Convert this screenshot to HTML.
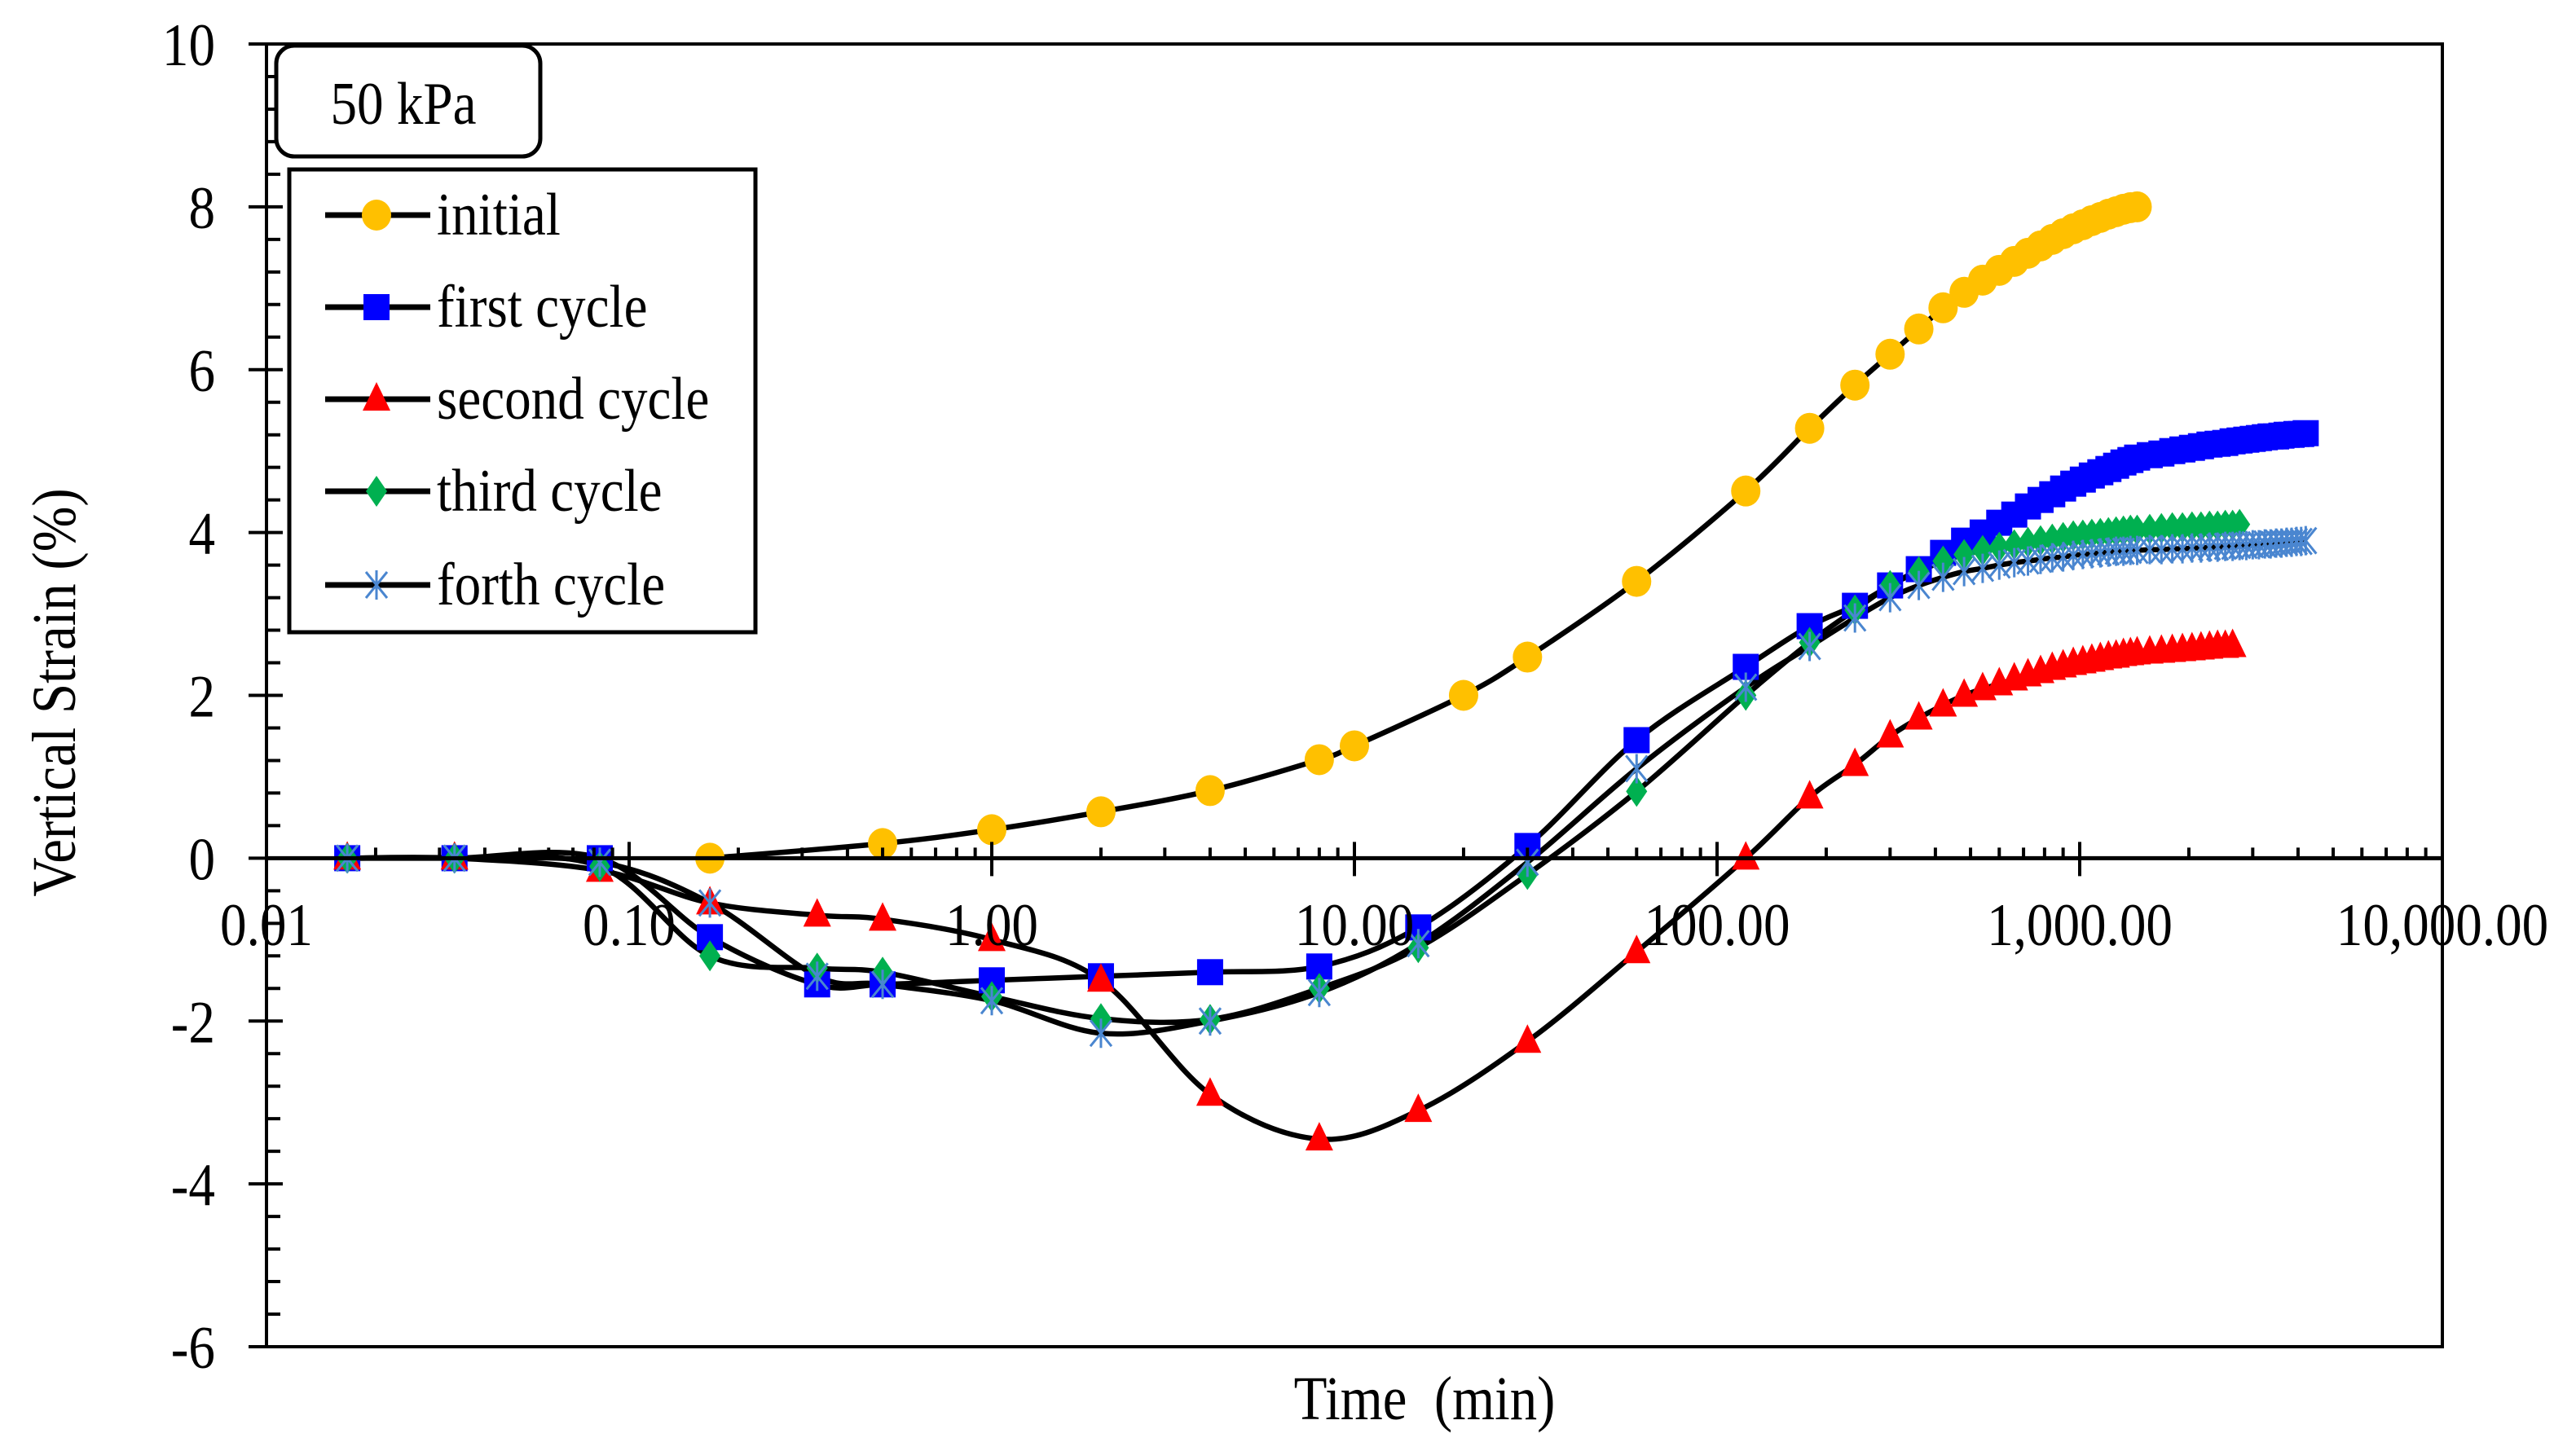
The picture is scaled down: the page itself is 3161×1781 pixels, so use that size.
<!DOCTYPE html>
<html><head><meta charset="utf-8"><style>
html,body{margin:0;padding:0;background:#fff;}
svg{display:block;font-family:"Liberation Serif",serif;}
</style></head><body>
<svg id="chart" width="3161" height="1781" viewBox="0 0 3161 1781" xmlns="http://www.w3.org/2000/svg">
<rect x="0" y="0" width="3161" height="1781" fill="#fff"/>
<g id="lines"></g>
<g id="marks"></g>
<g id="axes"></g>
<text x="0" y="0" font-size="76" text-anchor="middle" transform="translate(1748,1742) scale(0.88,1)">Time&#160; (min)</text>
<text x="0" y="0" font-size="76" text-anchor="middle" transform="translate(92,850) rotate(-90) scale(0.88,1)">Vertical Strain (%)</text>
<rect x="339" y="56" width="324" height="136" rx="22" ry="22" fill="#fff" stroke="#000" stroke-width="5"/>
<text x="0" y="0" font-size="74" text-anchor="middle" transform="translate(495,152) scale(0.88,1)">50 kPa</text>
<g id="legend">
<rect x="355" y="208" width="572" height="568" fill="#fff" stroke="#000" stroke-width="5"/>
</g>
</svg>
<script>
const categoriesEarly=[0.0167,0.033,0.083,0.167,0.33,0.5,1,2,4,8,15,30,60,120,180,240,300,360,420];
const timesMid=[480,540,600,660,720,780,840,900,960,1020,1080,1140,1200,1260,1320,1380,1440];
const timesLate=[1560,1680,1800,1920,2040,2160,2280,2400,2520,2640,2760,2880,3000,3120,3240,3360,3480,3600,3720,3840,3960,4080,4200];
const initialTimes=[0.167,0.5,1,2,4,8,10,20,30,60,120,180,240,300,360,420];
const initialValues=[0,0.18,0.35,0.57,0.83,1.21,1.38,2.0,2.47,3.4,4.51,5.28,5.81,6.19,6.5,6.76,6.95,7.1,7.22,7.33,7.43,7.52,7.6,7.67,7.73,7.78,7.83,7.87,7.91,7.94,7.97,7.99,8.0];
const firstValues=[0,0,0,-0.97,-1.55,-1.55,-1.5,-1.45,-1.4,-1.33,-0.85,0.15,1.45,2.35,2.85,3.1,3.35,3.55,3.75,3.9,4.0,4.12,4.22,4.32,4.4,4.47,4.54,4.6,4.65,4.7,4.74,4.78,4.82,4.86,4.89,4.92,4.95,4.97,5.0,5.02,5.04,5.06,5.08,5.09,5.1,5.12,5.13,5.14,5.15,5.16,5.17,5.18,5.18,5.19,5.2,5.2,5.21,5.21,5.22];
const secondValues=[0,0,-0.15,-0.55,-0.7,-0.75,-1.0,-1.5,-2.9,-3.45,-3.1,-2.25,-1.15,0.0,0.75,1.15,1.5,1.72,1.88,2.0,2.08,2.14,2.2,2.25,2.29,2.33,2.36,2.39,2.41,2.43,2.45,2.47,2.48,2.5,2.51,2.52,2.53,2.54,2.55,2.56,2.57,2.58,2.59,2.6,2.6,2.61];
const thirdValues=[0,0,-0.1,-1.2,-1.35,-1.4,-1.7,-1.97,-1.98,-1.6,-1.1,-0.2,0.82,2.0,2.65,3.05,3.35,3.52,3.65,3.73,3.78,3.82,3.85,3.88,3.9,3.92,3.94,3.96,3.97,3.98,3.99,4.0,4.01,4.02,4.03,4.03,4.04,4.05,4.06,4.06,4.07,4.07,4.08,4.08,4.09,4.09,4.1];
const fourthValues=[0,0,-0.05,-0.55,-1.45,-1.55,-1.75,-2.15,-2.0,-1.65,-1.05,-0.05,1.1,2.1,2.6,2.95,3.2,3.35,3.45,3.52,3.56,3.6,3.63,3.65,3.67,3.69,3.7,3.72,3.73,3.74,3.75,3.76,3.77,3.77,3.78,3.78,3.79,3.79,3.8,3.8,3.81,3.81,3.82,3.82,3.83,3.83,3.84,3.84,3.85,3.85,3.86,3.86,3.87,3.87,3.88,3.88,3.89,3.89,3.9];
const xTickLabels=["0.01","0.10","1.00","10.00","100.00","1,000.00","10,000.00"];
const yTickLabels=["-6","-4","-2","0","2","4","6","8","10"];
const seriesNames=["initial","first cycle","second cycle","third cycle","forth cycle"];

const NS="http://www.w3.org/2000/svg";
const X0=327,X1=2997,Y0=54,Y1=1653,XMIN=-2,XMAX=4,YMIN=-6,YMAX=10;
function xs(t){return X0+(Math.log10(t)-XMIN)/(XMAX-XMIN)*(X1-X0);}
function ys(v){return Y1-(v-YMIN)/(YMAX-YMIN)*(Y1-Y0);}
function mk(tag,attrs,parent){const e=document.createElementNS(NS,tag);for(const k in attrs)e.setAttribute(k,attrs[k]);parent.appendChild(e);return e;}
function txt(x,y,size,anchor,str,parent){
  const e=mk('text',{x:0,y:0,'font-size':size,'text-anchor':anchor,transform:'translate('+x+','+y+') scale(0.88,1)'},parent);
  e.textContent=str;return e;
}
const axes=document.getElementById('axes'),linesG=document.getElementById('lines'),marksG=document.getElementById('marks'),legend=document.getElementById('legend');

let fr=mk('rect',{x:X0,y:Y0,width:X1-X0,height:Y1-Y0,fill:'none',stroke:'#000','stroke-width':4},axes);


const yz=ys(0);
let xa=mk('line',{x1:X0,y1:yz,x2:X1,y2:yz,stroke:'#000','stroke-width':5},axes);


for(let d=XMIN;d<=XMAX;d++){
  const x=xs(Math.pow(10,d));
  let t=mk('line',{x1:x,y1:yz-20,x2:x,y2:yz+22,stroke:'#000','stroke-width':4},axes);
  
  
  let lb=txt(x,1160,74,'middle',xTickLabels[d-XMIN],axes);
  
  
  if(d<XMAX)for(let m=2;m<=9;m++){
    const xm=xs(m*Math.pow(10,d));
    let mt=mk('line',{x1:xm,y1:yz-13,x2:xm,y2:yz,stroke:'#000','stroke-width':4},axes);
    
    
  }
}
for(let i=0;i<yTickLabels.length;i++){
  const v=parseFloat(yTickLabels[i]),y=ys(v);
  let t=mk('line',{x1:X0-22,y1:y,x2:X0+20,y2:y,stroke:'#000','stroke-width':4},axes);
  
  
  let lb=txt(264,y+26,74,'end',yTickLabels[i],axes);
  
  
  if(i<yTickLabels.length-1)for(let m=1;m<5;m++){
    const ym=ys(v+0.4*m);
    let mt=mk('line',{x1:X0,y1:ym,x2:X0+17,y2:ym,stroke:'#000','stroke-width':4},axes);
    
    
  }
}

function smoothPath(pts){
  let d='M'+pts[0][0]+','+pts[0][1];
  for(let i=0;i<pts.length-1;i++){
    const p0=pts[Math.max(0,i-1)],p1=pts[i],p2=pts[i+1],p3=pts[Math.min(pts.length-1,i+2)];
    const c1x=p1[0]+(p2[0]-p0[0])/6,c1y=p1[1]+(p2[1]-p0[1])/6;
    const c2x=p2[0]-(p3[0]-p1[0])/6,c2y=p2[1]-(p3[1]-p1[1])/6;
    d+=' C'+c1x+','+c1y+' '+c2x+','+c2y+' '+p2[0]+','+p2[1];
  }
  return d;
}
function marker(kind,x,y,parent){
  let e;
  if(kind==='circle')e=mk('ellipse',{cx:x,cy:y,rx:18,ry:19,fill:'#FFC000'},parent);
  else if(kind==='square')e=mk('rect',{x:x-16,y:y-16,width:32,height:32,fill:'#0000FF'},parent);
  else if(kind==='triangle')e=mk('polygon',{points:(x)+','+(y-21)+' '+(x-17)+','+(y+14)+' '+(x+17)+','+(y+14),fill:'#FF0000'},parent);
  else if(kind==='diamond')e=mk('polygon',{points:x+','+(y-19)+' '+(x+13)+','+y+' '+x+','+(y+19)+' '+(x-13)+','+y,fill:'#00B050'},parent);
  else{
    e=mk('path',{d:'M'+(x-13)+','+(y-16)+'L'+(x+13)+','+(y+16)+'M'+(x+13)+','+(y-16)+'L'+(x-13)+','+(y+16)+'M'+x+','+(y-18)+'L'+x+','+(y+18),stroke:'#4A86D0','stroke-width':3,fill:'none'},parent);
  }
  return e;
}
const allTimes=categoriesEarly.concat(timesMid,timesLate);
const initTimesAll=initialTimes.concat(timesMid);
const series=[
  {name:'initial',kind:'circle',t:initTimesAll,v:initialValues},
  {name:'first-cycle',kind:'square',t:allTimes,v:firstValues},
  {name:'second-cycle',kind:'triangle',t:allTimes,v:secondValues},
  {name:'third-cycle',kind:'diamond',t:allTimes,v:thirdValues},
  {name:'fourth-cycle',kind:'star',t:allTimes,v:fourthValues}
];
series.forEach(s=>{
  const pts=s.v.map((v,i)=>[xs(s.t[i]),ys(v)]);
  let p=mk('path',{d:smoothPath(pts),fill:'none',stroke:'#000','stroke-width':6.5},linesG);
  
  
});
series.forEach(s=>{
  s.v.forEach((v,i)=>{
    let m=marker(s.kind,xs(s.t[i]),ys(v),marksG);
    
    
  });
});
const kinds=['circle','square','triangle','diamond','star'];
const legY=[264,377,490,603,718];
seriesNames.forEach((n,i)=>{
  let l=mk('line',{x1:399,y1:legY[i],x2:528,y2:legY[i],stroke:'#000','stroke-width':7},legend);
  
  
  let m=marker(kinds[i],462,legY[i],legend);
  
  
  let t=txt(536,legY[i]+24,74,'start',n,legend);
  
  
});
</script>
</body></html>
